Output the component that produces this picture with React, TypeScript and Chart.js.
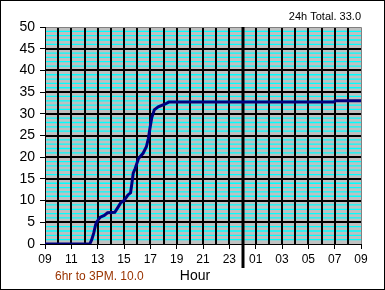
import React, { useEffect, useRef } from "react";
import { Chart, registerables } from "chart.js";

Chart.register(...registerables);

// hours elapsed since 09:00
const HOURS = [0, 3.4, 3.55, 3.7, 3.85, 3.95, 4.2, 4.5, 4.75, 5.3, 5.55, 5.75, 6.0, 6.3, 6.5, 6.6, 6.7, 6.85, 7.1, 7.45, 7.7, 7.85, 7.97, 8.1, 8.3, 8.6, 9.1, 9.4, 21.9, 22.1, 24];
// cumulative rainfall
const RAIN = [0, 0, 1, 2.5, 4.5, 5.2, 6.2, 6.6, 7.2, 7.3, 8.5, 9.5, 10.0, 11.3, 11.8, 14, 16.3, 17.4, 19.7, 20.9, 22.4, 24.3, 26.6, 29, 30.9, 31.6, 32.2, 32.7, 32.7, 33.0, 33.0];
const X_TICK_LABELS = ["09", "11", "13", "15", "17", "19", "21", "23", "01", "03", "05", "07", "09"];
const Y_TICK_LABELS = ["0", "5", "10", "15", "20", "25", "30", "35", "40", "45", "50"];
const TITLE_TEXT = "24h Total. 33.0";
const AXIS_TITLE = "Hour";
const NOTE_TEXT = "6hr to 3PM. 10.0";
const MIDNIGHT_HOUR = 15;

const FONT = "'Liberation Sans', Arial, sans-serif";

const gridPlugin = {
  id: "gridPlugin",
  beforeDatasetsDraw(chart: any) {
    const { ctx, chartArea: a, scales } = chart;
    const xs = scales.x;
    const ys = scales.y;
    ctx.save();
    ctx.fillStyle = "#c0c0c0";
    ctx.fillRect(a.left, a.top, a.right - a.left, a.bottom - a.top);
    // cyan minor lines
    ctx.strokeStyle = "#00ffff";
    ctx.lineWidth = 1.3;
    for (let v = 1; v < 50; v++) {
      if (v % 5 === 0) continue;
      const y = ys.getPixelForValue(v);
      ctx.beginPath();
      ctx.moveTo(a.left, y);
      ctx.lineTo(a.right, y);
      ctx.stroke();
    }
    // black major horizontal
    ctx.strokeStyle = "#000000";
    ctx.lineWidth = 2;
    for (let v = 5; v < 50; v += 5) {
      const y = Math.round(ys.getPixelForValue(v));
      ctx.beginPath();
      ctx.moveTo(a.left, y);
      ctx.lineTo(a.right, y);
      ctx.stroke();
    }
    // black vertical
    for (let h = 1; h < 24; h++) {
      const x = Math.round(xs.getPixelForValue(h));
      ctx.beginPath();
      ctx.moveTo(x, a.top);
      ctx.lineTo(x, a.bottom);
      ctx.stroke();
    }
    // gray frame top/right
    ctx.strokeStyle = "#808080";
    ctx.lineWidth = 1;
    ctx.beginPath();
    ctx.moveTo(a.left, a.top + 0.5);
    ctx.lineTo(a.right + 0.5, a.top + 0.5);
    ctx.lineTo(a.right + 0.5, a.bottom);
    ctx.stroke();
    // axes
    ctx.strokeStyle = "#000000";
    ctx.beginPath();
    ctx.moveTo(a.left + 0.5, a.top);
    ctx.lineTo(a.left + 0.5, a.bottom + 0.5);
    ctx.lineTo(a.right + 1, a.bottom + 0.5);
    ctx.stroke();
    // midnight line
    const mx = Math.round(xs.getPixelForValue(MIDNIGHT_HOUR));
    ctx.lineWidth = 3;
    ctx.beginPath();
    ctx.moveTo(mx, a.top);
    ctx.lineTo(mx, a.bottom + 24);
    ctx.stroke();
    ctx.restore();
  },
  afterDraw(chart: any) {
    const { ctx, width, height } = chart;
    ctx.save();
    ctx.textBaseline = "middle";
    ctx.fillStyle = "#000000";
    ctx.font = `11px ${FONT}`;
    ctx.textAlign = "right";
    ctx.fillText(TITLE_TEXT, 361, 17);
    ctx.font = `14px ${FONT}`;
    ctx.textAlign = "center";
    ctx.fillText(AXIS_TITLE, 195, 276);
    ctx.font = `12px ${FONT}`;
    ctx.textAlign = "left";
    ctx.fillStyle = "#993300";
    ctx.fillText(NOTE_TEXT, 55, 277);
    ctx.strokeStyle = "#000000";
    ctx.lineWidth = 1;
    ctx.strokeRect(0.5, 0.5, width - 1, height - 1);
    ctx.restore();
  },
};

export default function App() {
  const ref = useRef<HTMLCanvasElement>(null);
  useEffect(() => {
    if (!ref.current) return;
    const chart = new Chart(ref.current, {
      type: "line",
      data: {
        datasets: [
          {
            data: HOURS.map((h, i) => ({ x: h, y: RAIN[i] })),
            borderColor: "#000080",
            backgroundColor: "#000080",
            borderWidth: 3,
            pointRadius: 0,
            tension: 0,
          },
        ],
      },
      options: {
        responsive: false,
        animation: false,
        events: [],
        layout: { padding: { top: 27, right: 24, left: 0, bottom: 0 } },
        plugins: { legend: { display: false }, tooltip: { enabled: false }, title: { display: false } },
        scales: {
          x: {
            type: "linear",
            min: 0,
            max: 24,
            afterFit: (s: any) => { s.height = 46; },
            border: { display: false },
            grid: { drawOnChartArea: false, tickLength: 5, tickColor: "#000", tickWidth: 1 },
            ticks: {
              stepSize: 2,
              autoSkip: false,
              maxRotation: 0,
              padding: 3,
              color: "#000",
              font: { family: FONT, size: 12 },
              callback: (_v: any, i: number) => X_TICK_LABELS[i],
            },
          },
          y: {
            min: 0,
            max: 50,
            afterFit: (s: any) => { s.width = 45; },
            border: { display: false },
            grid: { drawOnChartArea: false, tickLength: 5, tickColor: "#000", tickWidth: 1 },
            ticks: {
              stepSize: 5,
              autoSkip: false,
              padding: 5,
              color: "#000",
              font: { family: FONT, size: 14 },
              callback: (_v: any, i: number) => Y_TICK_LABELS[i],
            },
          },
        },
      },
      plugins: [gridPlugin],
    });
    return () => chart.destroy();
  }, []);
  return (
    <div style={{ position: "absolute", left: 0, top: 0, width: 385, height: 290 }}>
      <canvas ref={ref} width={385} height={290} style={{ display: "block", width: 385, height: 290 }} />
    </div>
  );
}
